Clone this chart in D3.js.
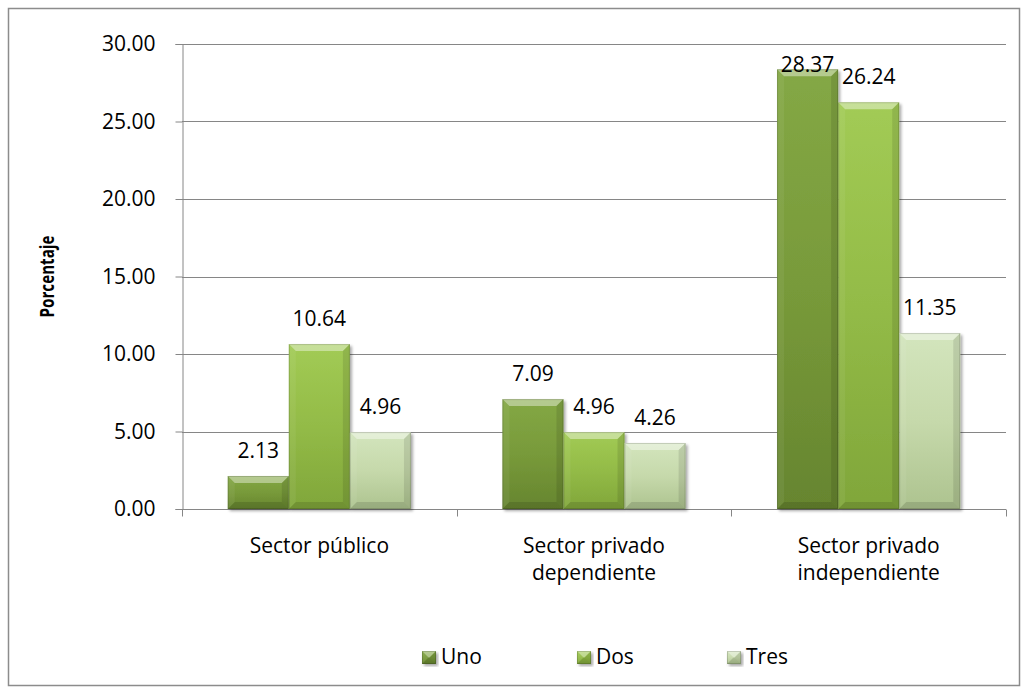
<!DOCTYPE html>
<html>
<head>
<meta charset="utf-8">
<script src="https://cdn.jsdelivr.net/npm/d3@7"></script>
<style>
  html, body { margin: 0; padding: 0; background: #fff; }
  svg { display: block; font-family: "Open Sans", "Noto Sans", sans-serif; }
</style>
</head>
<body>
<svg id="chart" width="1029" height="694"></svg>
<script>
// Participation by sector and number of members
const categories = [["Sector público"], ["Sector privado", "dependiente"], ["Sector privado", "independiente"]];
const seriesNames = ["Uno", "Dos", "Tres"];
const uno  = [2.13, 7.09, 28.37];
const dos  = [10.64, 4.96, 26.24];
const tres = [4.96, 4.26, 11.35];
const yTicks = [0, 5, 10, 15, 20, 25, 30];
const yTitle = "Porcentaje";

const seriesValues = [uno, dos, tres];
const seriesColors = [
  { top: "#84a845", mid: "#789a3a", bot: "#66852f" },
  { top: "#a2cb55", mid: "#93bb47", bot: "#80a63a" },
  { top: "#d3e5bd", mid: "#c6d9ab", bot: "#adc38f" }
];
const FS = 21;

const svg = d3.select("#chart");
const plot = { left: 182, right: 1006, top: 44, bottom: 509 };

// outer frame
svg.append("rect")
  .attr("x", 8.5).attr("y", 8.5)
  .attr("width", 1011).attr("height", 677)
  .attr("fill", "#fff").attr("stroke", "#8c8c8c").attr("stroke-width", 1.5);

const defs = svg.append("defs");
seriesColors.forEach((c, i) => {
  const g = defs.append("linearGradient").attr("id", "grad" + i)
    .attr("x1", 0).attr("y1", 0).attr("x2", 0).attr("y2", 1);
  g.append("stop").attr("offset", "0%").attr("stop-color", c.top);
  g.append("stop").attr("offset", "50%").attr("stop-color", c.mid);
  g.append("stop").attr("offset", "100%").attr("stop-color", c.bot);
});
const sh = defs.append("filter").attr("id", "shadow")
  .attr("x", "-10%").attr("y", "-10%").attr("width", "130%").attr("height", "130%");
sh.append("feGaussianBlur").attr("in", "SourceAlpha").attr("stdDeviation", 1.5).attr("result", "b");
sh.append("feOffset").attr("in", "b").attr("dx", 1.5).attr("dy", 2).attr("result", "o");
sh.append("feComponentTransfer").attr("in", "o").attr("result", "oa")
  .append("feFuncA").attr("type", "linear").attr("slope", 0.35);
const mg = sh.append("feMerge");
mg.append("feMergeNode").attr("in", "oa");
mg.append("feMergeNode").attr("in", "SourceGraphic");

const y = d3.scaleLinear().domain([0, 30]).range([plot.bottom, plot.top]);
const x0 = d3.scaleBand().domain(d3.range(categories.length))
  .range([plot.left, plot.right]).paddingInner(0).paddingOuter(0);
const bw = x0.bandwidth();
const x1 = d3.scaleBand().domain(seriesNames)
  .range([bw * 0.1665, bw * 0.8335]).padding(0);

// gridlines
svg.append("g").selectAll("line").data(yTicks.slice(1)).join("line")
  .attr("x1", plot.left).attr("x2", plot.right)
  .attr("y1", d => Math.round(y(d)) + 0.5).attr("y2", d => Math.round(y(d)) + 0.5)
  .attr("stroke", "#868686").attr("stroke-width", 1);

// y axis
const yAxis = d3.axisLeft(y).tickValues(yTicks).tickFormat(d3.format(".2f"))
  .tickSize(7).tickPadding(20);
const yg = svg.append("g").attr("transform", `translate(${plot.left + 0.5},0)`).call(yAxis);
yg.select(".domain").attr("stroke", "#868686");
yg.selectAll(".tick line").attr("stroke", "#868686");
yg.selectAll(".tick text").attr("font-size", FS).attr("fill", "#000")
  .attr("font-family", "'Open Sans', sans-serif");

// x axis
const xg = svg.append("g").attr("transform", `translate(0,${Math.round(y(0)) + 0.5})`);
xg.append("line").attr("x1", plot.left).attr("x2", plot.right)
  .attr("stroke", "#868686");
xg.selectAll("line.tk").data(d3.range(categories.length + 1)).join("line")
  .attr("class", "tk")
  .attr("x1", i => Math.round(plot.left + i * bw) + 0.5)
  .attr("x2", i => Math.round(plot.left + i * bw) + 0.5)
  .attr("y1", 0).attr("y2", 7).attr("stroke", "#868686");
xg.selectAll("text").data(categories).join("text")
  .attr("text-anchor", "middle").attr("font-size", FS).attr("fill", "#000")
  .attr("transform", (d, i) => `translate(${x0(i) + bw / 2},0)`)
  .each(function(lines) {
    d3.select(this).selectAll("tspan").data(lines).join("tspan")
      .attr("x", 0).attr("y", (l, j) => 43 + j * 27).text(l => l);
  });

// y title (condensed bold)
svg.append("text")
  .attr("transform", `translate(54,${(plot.top + plot.bottom) / 2}) rotate(-90) scale(0.8,1)`)
  .attr("text-anchor", "middle").attr("font-size", 19).attr("font-weight", "bold")
  .text(yTitle);

// bevelled bar
function bevelBar(g, bx, by, w, h, i) {
  const b = Math.min(7, h / 2, w / 2);
  g.append("rect").attr("x", bx).attr("y", by).attr("width", w).attr("height", h)
    .attr("fill", `url(#grad${i})`).attr("filter", "url(#shadow)");
  const X0 = bx, X1 = bx + w, Y0 = by, Y1 = by + h;
  g.append("path").attr("d", `M${X0},${Y0}L${X1},${Y0}L${X1 - b},${Y0 + b}L${X0 + b},${Y0 + b}Z`)
    .attr("fill", "#fff").attr("fill-opacity", 0.4);
  g.append("path").attr("d", `M${X0},${Y1}L${X1},${Y1}L${X1 - b},${Y1 - b}L${X0 + b},${Y1 - b}Z`)
    .attr("fill", "#000").attr("fill-opacity", 0.12);
  g.append("path").attr("d", `M${X0},${Y0}L${X0 + b},${Y0 + b}L${X0 + b},${Y1 - b}L${X0},${Y1}Z`)
    .attr("fill", "#fff").attr("fill-opacity", 0.06);
  g.append("path").attr("d", `M${X1},${Y0}L${X1 - b},${Y0 + b}L${X1 - b},${Y1 - b}L${X1},${Y1}Z`)
    .attr("fill", "#000").attr("fill-opacity", 0.1);
  g.append("rect").attr("x", bx + 0.5).attr("y", by + 0.5).attr("width", w - 1).attr("height", h - 1)
    .attr("fill", "none").attr("stroke", "#000").attr("stroke-opacity", 0.15);
}

const bars = svg.append("g");
categories.forEach((c, ci) => {
  seriesNames.forEach((s, si) => {
    const v = seriesValues[si][ci];
    const bx = x0(ci) + x1(s);
    const by = y(v);
    bevelBar(bars.append("g"), bx, by, x1.bandwidth(), y(0) - by, si);
  });
});

// value labels, kept inside the plot area
const labels = svg.append("g");
categories.forEach((c, ci) => {
  seriesNames.forEach((s, si) => {
    const v = seriesValues[si][ci];
    const cx = x0(ci) + x1(s) + x1.bandwidth() / 2;
    const ly = Math.max(y(v) - 18, plot.top + 28);
    labels.append("text").attr("x", cx).attr("y", ly)
      .attr("text-anchor", "middle").attr("font-size", FS).attr("fill", "#000")
      .text(d3.format(".2f")(v));
  });
});

// legend
const legendX = [422, 577, 727];
const lg = svg.append("g");
seriesNames.forEach((s, i) => {
  const g = lg.append("g");
  bevelBar(g, legendX[i], 651, 14, 13, i);
  g.append("text").attr("x", legendX[i] + 19).attr("y", 664)
    .attr("font-size", FS).attr("fill", "#000").text(s);
});
</script>
</body>
</html>
